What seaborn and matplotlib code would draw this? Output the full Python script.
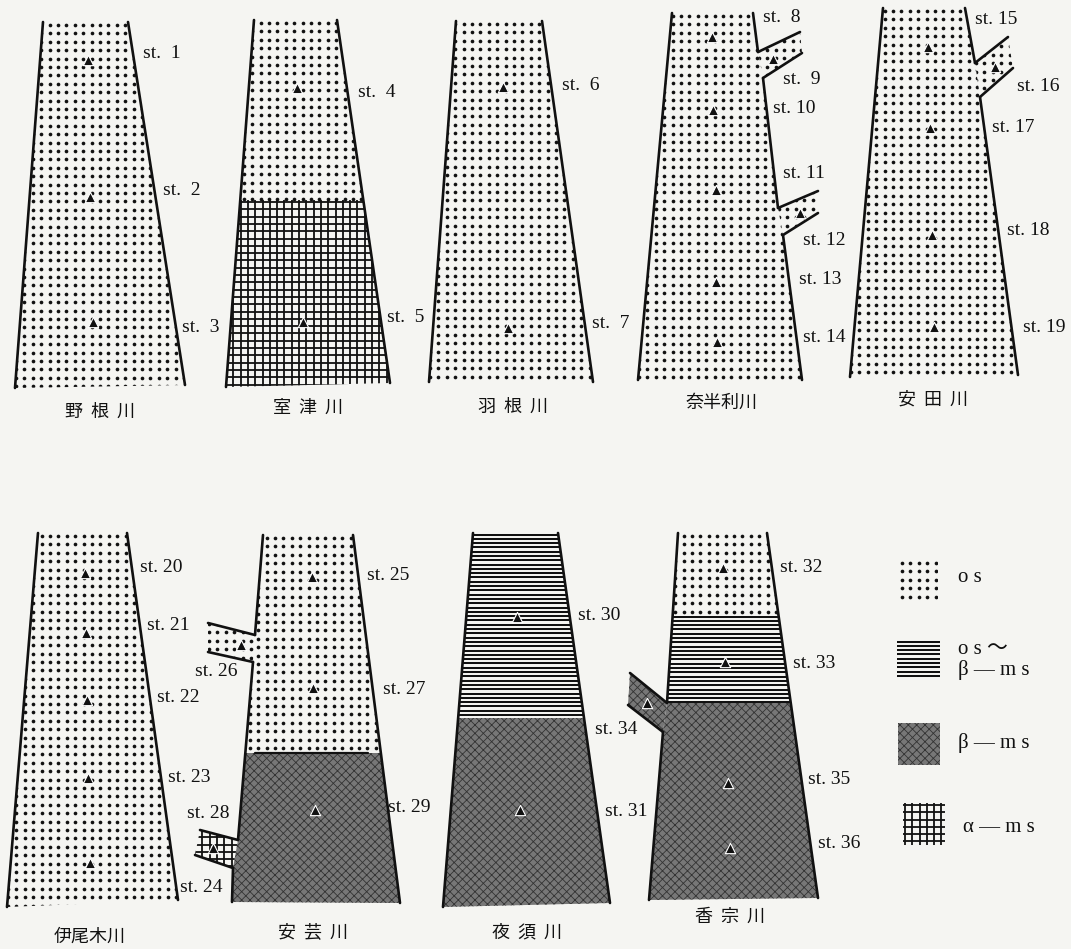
import numpy as np
import pandas as pd
import matplotlib.pyplot as plt
import seaborn as sns
from matplotlib.patches import Polygon

# ── 1. Data ───────────────────────────────────────────────────────────────────
RIVERS = ["野  根  川", "室  津  川", "羽  根  川", "奈半利川", "安  田  川",
          "伊尾木川", "安  芸  川", "夜  須  川", "香  宗  川"]

# station number, river index, triangle position (pixel space of the sheet)
ST_NUM   = [1, 2, 3, 4, 5, 6, 7, 8, 9, 10, 11, 12, 13, 14, 15, 16, 17, 18,
            19, 20, 21, 22, 23, 24, 25, 26, 27, 28, 29, 30, 31, 32, 33, 34, 35, 36]
ST_RIVER = [0, 0, 0, 1, 1, 2, 2, 3, 3, 3, 3, 3, 3, 3, 4, 4, 4, 4,
            4, 5, 5, 5, 5, 5, 6, 6, 6, 6, 6, 7, 7, 8, 8, 8, 8, 8]
ST_X = [88, 90, 93, 297, 303, 503, 508, 712, 773, 713, 716, 800, 716, 717,
        928, 995, 930, 932, 934, 85, 86, 87, 88, 90, 312, 241, 313, 213, 315,
        517, 520, 723, 725, 647, 728, 730]
ST_Y = [60, 197, 322, 88, 322, 87, 328, 37, 59, 110, 190, 213, 282, 342,
        47, 67, 128, 235, 327, 573, 633, 700, 778, 863, 577, 645, 688, 848, 810,
        617, 810, 568, 662, 703, 783, 848]
LBL_X = [143, 163, 182, 358, 387, 562, 592, 763, 783, 773, 783, 803, 799, 803,
         975, 1017, 992, 1007, 1023, 140, 147, 157, 168, 180, 367, 195, 383, 187, 388,
         578, 605, 780, 793, 595, 808, 818]
LBL_Y = [53, 190, 327, 92, 317, 85, 323, 17, 79, 108, 173, 240, 280, 338,
         19, 86, 127, 230, 328, 567, 626, 697, 777, 888, 575, 672, 690, 813, 808,
         615, 812, 568, 663, 730, 780, 843]

# saprobic zones along each main stream: os, os~β-ms (osb), β-ms (b), α-ms (a)
ZONE_RIVER  = [0, 1, 1, 2, 3, 4, 5, 6, 6, 7, 7, 8, 8, 8]
ZONE_CLASS  = ["os", "os", "a", "os", "os", "os", "os", "os", "b", "osb", "b", "os", "osb", "b"]
ZONE_TOP    = [22, 20, 200, 21, 13, 8, 533, 535, 753, 533, 718, 533, 615, 703]
ZONE_BOTTOM = [388, 200, 387, 382, 380, 377, 907, 753, 903, 718, 907, 615, 703, 900]

# ── 2. Sheet geometry ─────────────────────────────────────────────────────────
LEFT_BANK = [
    [(43, 22), (15, 388)],
    [(254, 20), (226, 387)],
    [(456, 21), (429, 382)],
    [(672, 13), (638, 380)],
    [(883, 8), (850, 377)],
    [(38, 533), (7, 907)],
    [(263, 535), (255, 635), (253, 662), (238, 840), (233, 868), (232, 902)],
    [(473, 533), (443, 907)],
    [(678, 533), (667, 703), (663, 732), (649, 900)],
]
RIGHT_BANK = [
    [(128, 22), (185, 385)],
    [(337, 20), (390, 383)],
    [(542, 21), (593, 382)],
    [(753, 13), (758, 52), (763, 78), (778, 208), (783, 235), (802, 380)],
    [(965, 8), (975, 63), (980, 97), (1018, 375)],
    [(127, 533), (178, 900)],
    [(353, 535), (400, 903)],
    [(558, 533), (610, 903)],
    [(767, 533), (818, 898)],
]
# bank segments left open where a tributary joins: (river, side) -> segment index
GAPS = {(3, "R"): [1, 3], (4, "R"): [1], (6, "L"): [1, 3], (8, "L"): [1]}

TRIB_CLASS = ["os", "os", "os", "os", "a", "b"]
TRIB_POLY = [
    [(800, 32), (758, 52), (763, 78), (802, 53)],
    [(818, 191), (778, 208), (783, 235), (818, 213)],
    [(1008, 37), (975, 63), (980, 97), (1013, 68)],
    [(208, 623), (255, 635), (253, 662), (208, 652)],
    [(200, 830), (238, 840), (233, 868), (195, 855)],
    [(630, 673), (667, 703), (663, 732), (628, 705)],
]

TITLE_X = [100, 308, 513, 722, 933, 90, 313, 527, 730]
TITLE_Y = [412, 408, 407, 403, 400, 937, 932, 932, 917]

LEG_CLASS = ["os", "osb", "b", "a"]
LEG_BOX   = [(899, 560, 938, 600), (897, 640, 940, 680), (898, 723, 940, 765), (903, 803, 945, 845)]
LEG_TEXT  = ["o s ～\nβ — m s", "o s", "β — m s", "α — m s"]
LEG_TX    = [958, 958, 958, 963]
LEG_TY    = [660, 577, 743, 827]

BG = "#f5f5f2"
INK = "#111111"
SERIF = ["Liberation Serif", "DejaVu Serif"]
CJK = ["Noto Sans CJK JP", "DejaVu Sans"]

sns.set_theme(style="white")
plt.rcParams["font.family"] = SERIF
plt.rcParams["hatch.linewidth"] = 0.6


def fill_pattern(ax, clip, kind, x0, x1, y0, y1):
    """Fill the band y0..y1 of the clip polygon with a zone pattern."""
    arts = []
    if kind == "os":
        sp = 8.4
        gx, gy = np.meshgrid(np.arange(x0 + 3, x1, sp), np.arange(y0 + 3, y1, sp))
        arts.append(ax.scatter(gx.ravel(), gy.ravel(), s=7, c=INK, linewidths=0, zorder=2))
    elif kind == "osb":
        ys = np.arange(y0 + 1.5, y1, 4.3)
        arts.append(ax.hlines(ys, x0, x1, colors=INK, lw=1.45, zorder=2))
    elif kind == "a":
        sp = 7.3
        arts.append(ax.hlines(np.arange(y0 + 2, y1, sp), x0, x1, colors=INK, lw=1.3, zorder=2))
        arts.append(ax.vlines(np.arange(x0 + 2, x1, sp), y0, y1, colors=INK, lw=1.3, zorder=2))
    elif kind == "b":
        arts.append(ax.fill_between([x0, x1], y0, y1, facecolor="#777777", edgecolor="#333333",
                                    hatch="xxxx", linewidth=0, zorder=2))
    for a in arts:
        a.set_clip_path(clip)


# ── 3. Plot ───────────────────────────────────────────────────────────────────
fig = plt.figure(figsize=(10.71, 9.49), dpi=100, facecolor=BG)
ax = fig.add_axes([0, 0, 1, 1])
ax.set_facecolor(BG)

# main streams
for i in range(len(RIVERS)):
    verts = LEFT_BANK[i] + RIGHT_BANK[i][::-1]
    clip = Polygon(verts, closed=True, fc="none", ec="none", transform=ax.transData)
    ax.add_patch(clip)
    xs = [v[0] for v in verts]
    for z in range(len(ZONE_RIVER)):
        if ZONE_RIVER[z] == i:
            fill_pattern(ax, clip, ZONE_CLASS[z], min(xs) - 2, max(xs) + 2,
                         ZONE_TOP[z], ZONE_BOTTOM[z])
    for side, bank in (("L", LEFT_BANK[i]), ("R", RIGHT_BANK[i])):
        skip = GAPS.get((i, side), [])
        for k in range(len(bank) - 1):
            if k in skip:
                continue
            ax.plot([bank[k][0], bank[k + 1][0]], [bank[k][1], bank[k + 1][1]],
                    color=INK, lw=1.9, solid_capstyle="round", zorder=4)

# zone boundary in 安芸川
ax.plot([255, 368], [753, 753], color=INK, lw=1.6, zorder=4)

# tributaries
for t in range(len(TRIB_POLY)):
    poly = TRIB_POLY[t]
    clip = Polygon(poly, closed=True, fc="none", ec="none", transform=ax.transData)
    ax.add_patch(clip)
    xs = [v[0] for v in poly]
    ys = [v[1] for v in poly]
    fill_pattern(ax, clip, TRIB_CLASS[t], min(xs) - 2, max(xs) + 2, min(ys) - 2, max(ys) + 2)
    for a, b in ((0, 1), (3, 2)):
        ax.plot([poly[a][0], poly[b][0]], [poly[a][1], poly[b][1]],
                color=INK, lw=1.9, solid_capstyle="round", zorder=4)

# stations
stations = pd.DataFrame({"st": ST_NUM, "river": ST_RIVER, "x": ST_X, "y": ST_Y})
sns.scatterplot(data=stations, x="x", y="y", marker="^", s=55, color=INK,
                edgecolor="white", linewidth=0.8, ax=ax, zorder=5, legend=False)
ax.set_xlim(0, 1071)
ax.set_ylim(949, 0)
ax.axis("off")

for n, lx, ly in zip(ST_NUM, LBL_X, LBL_Y):
    lbl = f"st.  {n}" if n < 10 else f"st. {n}"
    ax.text(lx, ly, lbl, fontsize=14, color=INK, ha="left", va="center", family=SERIF)

for name, tx, ty in zip(RIVERS, TITLE_X, TITLE_Y):
    ax.text(tx, ty, name, fontsize=13, color=INK, ha="center", va="center", family=CJK)

# legend
for kind, (x0, y0, x1, y1) in zip(LEG_CLASS, LEG_BOX):
    clip = Polygon([(x0, y0), (x1, y0), (x1, y1), (x0, y1)], closed=True,
                   fc="none", ec="none", transform=ax.transData)
    ax.add_patch(clip)
    fill_pattern(ax, clip, kind, x0, x1, y0, y1)
for txt, tx, ty in zip(LEG_TEXT, LEG_TX, LEG_TY):
    ax.text(tx, ty, txt, fontsize=15, color=INK, ha="left", va="center",
            family=SERIF + ["Noto Sans CJK JP"], linespacing=1.0)

plt.savefig("out.png", dpi=100, facecolor=BG)
plt.close()
